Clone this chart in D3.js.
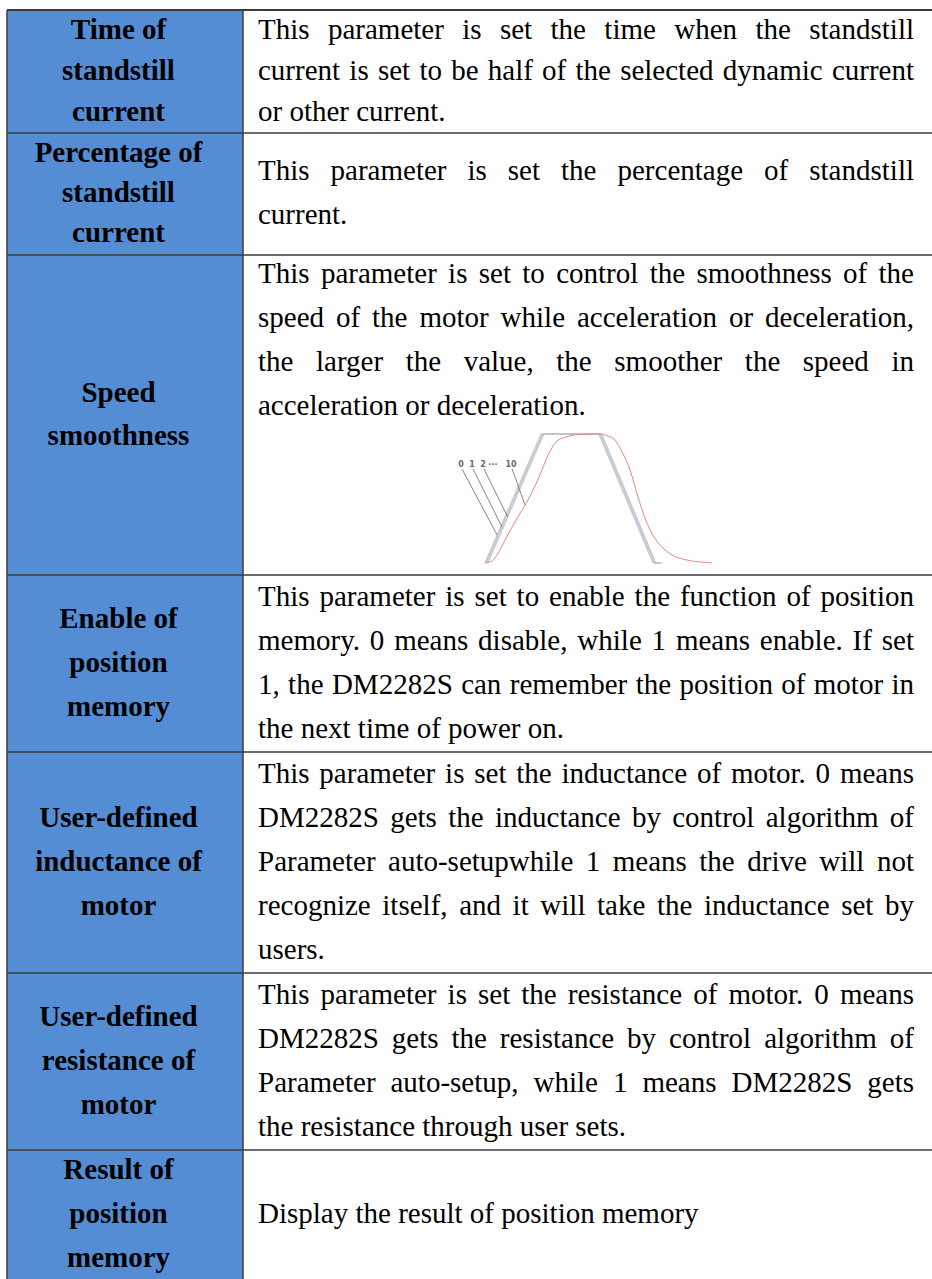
<!DOCTYPE html>
<html>
<head>
<meta charset="utf-8">
<script src="https://cdn.jsdelivr.net/npm/d3@7"></script>
<style>
  body { margin: 0; background: #fff; }
</style>
</head>
<body>
<div id="chart"></div>
<script>
// Parameter names (left column), one entry per row, split as in the manual
const labels = [
    ["Time of", "standstill", "current"],
    ["Percentage of", "standstill", "current"],
    ["Speed", "smoothness"],
    ["Enable of", "position", "memory"],
    ["User-defined", "inductance of", "motor"],
    ["User-defined", "resistance of", "motor"],
    ["Result of", "position", "memory"]
];

// Descriptions (right column), line breaks as in the manual
const descriptions = [
    ["This parameter is set the time when the standstill",
     "current is set to be half of the selected dynamic current",
     "or other current."],
    ["This parameter is set the percentage of standstill",
     "current."],
    ["This parameter is set to control the smoothness of the",
     "speed of the motor while acceleration or deceleration,",
     "the larger the value, the smoother the speed in",
     "acceleration or deceleration."],
    ["This parameter is set to enable the function of position",
     "memory. 0 means disable, while 1 means enable. If set",
     "1, the DM2282S can remember the position of motor in",
     "the next time of power on."],
    ["This parameter is set the inductance of motor. 0 means",
     "DM2282S gets the inductance by control algorithm of",
     "Parameter auto-setupwhile 1 means the drive will not",
     "recognize itself, and it will take the inductance set by",
     "users."],
    ["This parameter is set the resistance of motor. 0 means",
     "DM2282S gets the resistance by control algorithm of",
     "Parameter auto-setup, while 1 means DM2282S gets",
     "the resistance through user sets."],
    ["Display the result of position memory"]
];

// Speed profile sketch (time %, speed %)
const profileGray = [
    {t: 0, v: 0}, {t: 24.7, v: 100}, {t: 50.2, v: 100}, {t: 74, v: 0}, {t: 77, v: 0}
];
const grayShift = [0, 0.6, 1.2];
const profileRed = [
    {t: 0, v: 0}, {t: 3.1, v: 1.6}, {t: 6.6, v: 10.1}, {t: 8.8, v: 17.8},
    {t: 13.7, v: 33.3}, {t: 18.9, v: 48.8}, {t: 24.2, v: 68.2}, {t: 27.8, v: 83.7},
    {t: 31.3, v: 93.8}, {t: 35.7, v: 97.7}, {t: 41.9, v: 99.6}, {t: 50.2, v: 100},
    {t: 54.2, v: 98.4}, {t: 57.3, v: 95.3}, {t: 60.4, v: 86.0}, {t: 63.9, v: 72.1},
    {t: 67.8, v: 48.8}, {t: 72.7, v: 25.6}, {t: 77.1, v: 14.0}, {t: 82.4, v: 6.2},
    {t: 89.0, v: 2.3}, {t: 94.7, v: 0.8}, {t: 100, v: 0}
];
const smoothMarks = ["0", "1", "2", "···", "10"];
const smoothMarkT = [-10.6, -5.7, -0.9, 3.5, 11.5];
// speed level where each leader line meets its curve (null = no leader)
const leaderV = [21.7, 27.9, 35.7, null, 45];

// layout
const width = 932, height = 1279;
const rowEdges = [10, 133, 255, 575, 752, 973, 1150, 1280];
const leftLine = [41, 40, 43, 44, 44, 44, 44];
const rightLine = [41, 44, 44, 44, 44, 44, 44];
const tableLeft = 7, split = 243, labelX = 118.5;
const textX = 258, textRight = 914;
const fontSize = 29;

const svg = d3.select("#chart")
    .append("svg")
    .attr("width", width)
    .attr("height", height);

// blue label column
svg.append("rect")
    .attr("x", tableLeft)
    .attr("y", rowEdges[0])
    .attr("width", split - tableLeft)
    .attr("height", rowEdges[rowEdges.length - 1] - rowEdges[0])
    .attr("fill", "#548dd4");

const labelG = svg.append("g")
    .style("font-family", "'Liberation Serif', 'Times New Roman', serif")
    .style("font-size", fontSize + "px")
    .style("font-weight", "bold")
    .attr("text-anchor", "middle")
    .attr("fill", "#000");

const textG = svg.append("g")
    .style("font-family", "'Liberation Serif', 'Times New Roman', serif")
    .style("font-size", fontSize + "px")
    .attr("fill", "#000");

// baseline of line i of n lines, centred in the row
function baseline(row, i, n, lh) {
    const mid = (rowEdges[row] + rowEdges[row + 1]) / 2;
    return mid - n * lh / 2 + lh * i + lh / 2 + 8;
}

function writeLine(g, str, y, justify) {
    if (!justify) {
        g.append("text").attr("x", textX).attr("y", y).text(str);
        return;
    }
    const words = str.split(" ");
    const nodes = words.map(w => g.append("text").attr("y", y).text(w));
    const widths = nodes.map(n => n.node().getComputedTextLength());
    const gap = (textRight - textX - d3.sum(widths)) / (words.length - 1);
    let x = textX;
    nodes.forEach((n, i) => {
        n.attr("x", x);
        x += widths[i] + gap;
    });
}

labels.forEach((lines, r) => {
    lines.forEach((s, i) => {
        labelG.append("text")
            .attr("x", labelX)
            .attr("y", baseline(r, i, lines.length, leftLine[r]))
            .text(s);
    });
});

descriptions.forEach((lines, r) => {
    lines.forEach((s, i) => {
        // the smoothness row is top aligned to leave room for the sketch
        const y = r === 2 ? rowEdges[r] + 28 + i * rightLine[r]
                          : baseline(r, i, lines.length, rightLine[r]);
        writeLine(textG, s, y, i < lines.length - 1);
    });
});

// speed smoothness sketch
const x = d3.scaleLinear().domain([0, 100]).range([485, 712]);
const y = d3.scaleLinear().domain([0, 100]).range([563, 434]);

const sketch = svg.append("g");

grayShift.forEach(dt => {
    sketch.append("path")
        .datum(profileGray)
        .attr("fill", "none")
        .attr("stroke", "#b3afbf")
        .attr("stroke-width", 1.2)
        .attr("stroke-opacity", 0.75)
        .attr("d", d3.line().x(d => x(d.t + dt)).y(d => y(d.v)));
});

sketch.append("path")
    .datum(profileRed)
    .attr("fill", "none")
    .attr("stroke", "#ec8587")
    .attr("stroke-width", 1)
    .attr("d", d3.line().x(d => x(d.t)).y(d => y(d.v)).curve(d3.curveMonotoneX));

// where a rising curve reaches speed v
function riseT(i, v) {
    if (i < grayShift.length) return profileGray[1].t * v / 100 + grayShift[i];
    const k = profileRed.findIndex(d => d.v >= v);
    const a = profileRed[k - 1], b = profileRed[k];
    return a.t + (b.t - a.t) * (v - a.v) / (b.v - a.v);
}

smoothMarks.forEach((m, i) => {
    sketch.append("text")
        .attr("x", x(smoothMarkT[i]))
        .attr("y", y(74.4))
        .attr("text-anchor", "middle")
        .style("font-family", "'DejaVu Sans', sans-serif")
        .style("font-size", "8px")
        .style("font-weight", "bold")
        .attr("fill", "#6a6a6a")
        .text(m);
    if (leaderV[i] === null) return;
    sketch.append("line")
        .attr("x1", x(smoothMarkT[i]) + 1)
        .attr("y1", y(72.9))
        .attr("x2", x(riseT(i === 4 ? 3 : i, leaderV[i])))
        .attr("y2", y(leaderV[i]))
        .attr("stroke", "#666")
        .attr("stroke-width", 0.8);
});

// grid lines
const gridG = svg.append("g").attr("stroke", "#3c3c3c");
rowEdges.forEach((e, i) => {
    gridG.append("line")
        .attr("x1", tableLeft).attr("x2", width)
        .attr("y1", e).attr("y2", e)
        .attr("stroke-width", i === 0 ? 2 : 1.5);
});
[tableLeft, split].forEach(v => {
    gridG.append("line")
        .attr("x1", v).attr("x2", v)
        .attr("y1", rowEdges[0]).attr("y2", rowEdges[rowEdges.length - 1])
        .attr("stroke-width", 1.5);
});
</script>
</body>
</html>
